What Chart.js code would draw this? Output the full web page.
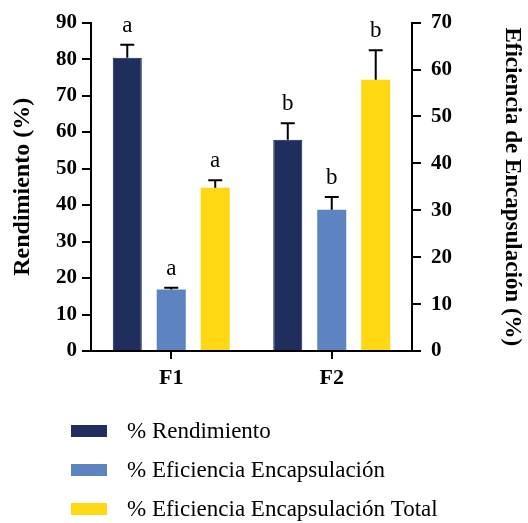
<!DOCTYPE html>
<html>
<head>
<meta charset="utf-8">
<script src="https://cdn.jsdelivr.net/npm/chart.js@4.4.1/dist/chart.umd.min.js"></script>
<style>
  html, body { margin: 0; padding: 0; background: #fff; }
  #wrap { width: 528px; height: 523px; }
</style>
</head>
<body>
<div id="wrap"><canvas id="c" width="528" height="523"></canvas></div>
<script>
// Formulations
const categories = ['F1', 'F2'];

// % Rendimiento (left axis)
const rendimiento = [80.4, 57.9];
const rendimientoErr = [3.5, 4.5];
const rendimientoLetters = ['a', 'b'];

// % Eficiencia Encapsulación (right axis)
const eficiencia = [13.1, 30.1];
const eficienciaErr = [0.4, 2.7];
const eficienciaLetters = ['a', 'b'];

// % Eficiencia Encapsulación Total (right axis)
const eficienciaTotal = [34.8, 57.8];
const eficienciaTotalErr = [1.6, 6.3];
const eficienciaTotalLetters = ['a', 'b'];

const leftTicks = [0, 10, 20, 30, 40, 50, 60, 70, 80, 90];
const rightTicks = [0, 10, 20, 30, 40, 50, 60, 70];

const SERIF = '"Liberation Serif", "Times New Roman", serif';

// Upper error bars with caps plus significance letters above them
const errorBarPlugin = {
  id: 'errorBars',
  afterDatasetsDraw(chart) {
    const ctx = chart.ctx;
    chart.data.datasets.forEach((ds, di) => {
      const meta = chart.getDatasetMeta(di);
      const yScale = chart.scales[ds.yAxisID];
      meta.data.forEach((bar, i) => {
        const top = yScale.getPixelForValue(ds.data[i] + ds.errors[i]);
        const x = bar.x;
        ctx.save();
        ctx.strokeStyle = '#000';
        ctx.lineWidth = 2;
        ctx.beginPath();
        ctx.moveTo(x, bar.y);
        ctx.lineTo(x, top);
        ctx.moveTo(x - 7, top);
        ctx.lineTo(x + 7, top);
        ctx.stroke();
        ctx.fillStyle = '#000';
        ctx.font = '23px ' + SERIF;
        ctx.textAlign = 'center';
        ctx.textBaseline = 'alphabetic';
        ctx.fillText(ds.letters[i], x, top - 13);
        ctx.restore();
      });
    });
  }
};

// Vertical legend under the plot
const legendPlugin = {
  id: 'stackedLegend',
  afterDraw(chart) {
    const ctx = chart.ctx;
    const rowY = [431, 470, 509];
    chart.data.datasets.forEach((ds, i) => {
      ctx.save();
      ctx.fillStyle = ds.backgroundColor;
      ctx.fillRect(71, rowY[i] - 6, 36, 12);
      ctx.fillStyle = '#000';
      ctx.font = '23px ' + SERIF;
      ctx.textAlign = 'left';
      ctx.textBaseline = 'middle';
      ctx.fillText(ds.label, 127, rowY[i] + 1);
      ctx.restore();
    });
  }
};

const tickFont = { family: SERIF, size: 21, weight: 'bold' };

new Chart(document.getElementById('c'), {
  type: 'bar',
  data: {
    labels: categories,
    datasets: [
      {
        label: '% Rendimiento',
        data: rendimiento,
        errors: rendimientoErr,
        letters: rendimientoLetters,
        yAxisID: 'yLeft',
        backgroundColor: 'rgb(31,46,92)',
        borderColor: 'rgb(18,34,80)',
        borderWidth: 1
      },
      {
        label: '% Eficiencia Encapsulación',
        data: eficiencia,
        errors: eficienciaErr,
        letters: eficienciaLetters,
        yAxisID: 'yRight',
        backgroundColor: 'rgb(93,132,193)',
        borderWidth: 0
      },
      {
        label: '% Eficiencia Encapsulación Total',
        data: eficienciaTotal,
        errors: eficienciaTotalErr,
        letters: eficienciaTotalLetters,
        yAxisID: 'yRight',
        backgroundColor: 'rgb(255,216,20)',
        borderWidth: 0
      }
    ]
  },
  options: {
    responsive: false,
    animation: false,
    devicePixelRatio: 1,
    categoryPercentage: 0.822,
    barPercentage: 0.66,
    layout: { padding: { top: 21, bottom: 132, left: 0, right: 0 } },
    plugins: {
      legend: { display: false },
      tooltip: { enabled: false }
    },
    scales: {
      x: {
        afterFit(s) { s.height = 40; },
        grid: {
          display: true, offset: false, drawOnChartArea: false,
          drawTicks: true, tickLength: 8, color: '#000', lineWidth: 2
        },
        border: { display: true, color: '#000', width: 2 },
        ticks: { color: '#000', font: { family: SERIF, size: 22, weight: 'bold' }, padding: 6 }
      },
      yLeft: {
        position: 'left',
        min: 0, max: 90,
        afterFit(s) { s.width = 91; },
        afterBuildTicks(s) { s.ticks = leftTicks.map(v => ({ value: v })); },
        grid: {
          display: true, drawOnChartArea: false, drawTicks: true,
          tickLength: 9, color: '#000', lineWidth: 2
        },
        border: { display: true, color: '#000', width: 2 },
        ticks: { color: '#000', font: tickFont, padding: 5 },
        title: {
          display: true, text: 'Rendimiento (%)', color: '#000',
          font: { family: SERIF, size: 24, weight: 'bold', lineHeight: 1.2 },
          padding: { top: 8, bottom: 0 }
        }
      },
      yRight: {
        position: 'right',
        min: 0, max: 70,
        afterFit(s) { s.width = 116; },
        afterBuildTicks(s) { s.ticks = rightTicks.map(v => ({ value: v })); },
        grid: {
          display: true, drawOnChartArea: false, drawTicks: true,
          tickLength: 9, color: '#000', lineWidth: 2
        },
        border: { display: true, color: '#000', width: 2 },
        ticks: { color: '#000', font: tickFont, padding: 10 },
        title: {
          display: true, text: 'Eficiencia de Encapsulación (%)', color: '#000',
          font: { family: SERIF, size: 23, weight: 'bold', lineHeight: 1.2 },
          padding: { top: 2, bottom: 0 }
        }
      }
    }
  },
  plugins: [errorBarPlugin, legendPlugin]
});
</script>
</body>
</html>
